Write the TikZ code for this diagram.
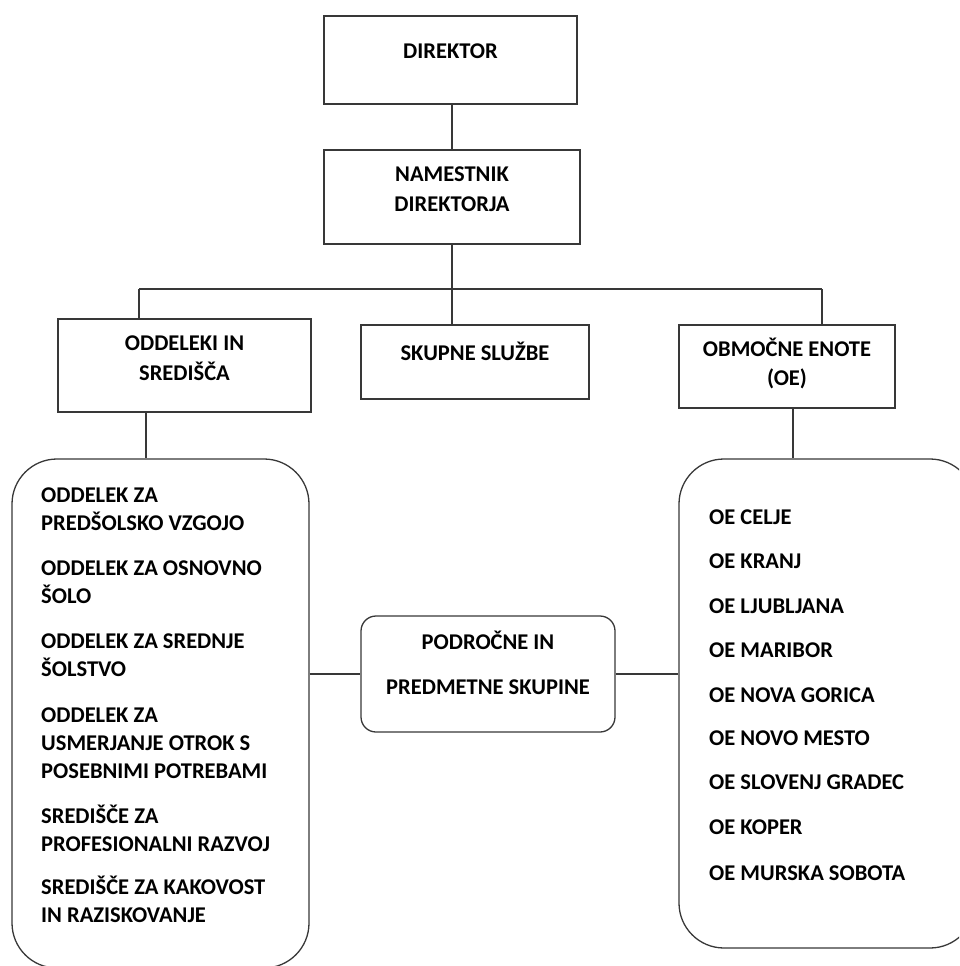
\documentclass[tikz,border=0pt]{standalone}
\usepackage{fontspec}
\setmainfont{Carlito}[BoldFont={Carlito Bold}]
\begin{document}
\begin{tikzpicture}[x=1pt,y=-1pt,
  line/.style={draw=black!78,line width=1.3pt},
  box/.style={line,rectangle,inner sep=0pt},
  rbox/.style={line,rectangle,rounded corners=45pt,inner sep=0pt},
  sbox/.style={line,rectangle,rounded corners=15pt,inner sep=0pt},
  txt/.style={font=\fontsize{22.5}{30}\selectfont\bfseries,inner sep=0pt,align=center,anchor=base},
  itm/.style={font=\fontsize{22.5}{27.7}\selectfont\bfseries,inner sep=0pt,align=left,anchor=base west}]
\useasboundingbox (0,0) rectangle (959,966);
\clip (0,0) rectangle (959,966);
% boxes
\node[box,minimum width=253pt,minimum height=88pt] (dir) at (450.5,60) {};
\node[box,minimum width=256pt,minimum height=94pt] (nam) at (452,197) {};
\node[box,minimum width=253pt,minimum height=93pt] (odd) at (184.5,365.5) {};
\node[box,minimum width=228pt,minimum height=74pt] (sku) at (475,362) {};
\node[box,minimum width=216pt,minimum height=83pt] (obm) at (787,366.5) {};
\node[rbox,minimum width=297pt,minimum height=509pt] (lbig) at (160.5,713.5) {};
\node[sbox,minimum width=254pt,minimum height=116pt] (pod) at (488,674) {};
\node[rbox,minimum width=296pt,minimum height=489pt] (rbig) at (827,703.5) {};
% texts (anchor = baseline of the last line)
\node[txt] (tdir) at (450.5,59) {DIREKTOR};
\node[txt] (tnam) at (452,211) {NAMESTNIK\\DIREKTORJA};
\node[txt] (todd) at (184.5,380) {ODDELEKI IN\\SREDIŠČA};
\node[txt] (tsku) at (475,360) {SKUPNE SLUŽBE};
\node[txt,font=\fontsize{22.5}{29}\selectfont\bfseries] (tobm) at (787,385) {OBMOČNE ENOTE\\(OE)};
\node[txt,font=\fontsize{22.5}{45}\selectfont\bfseries] (tpod) at (488,694) {PODROČNE IN\\PREDMETNE SKUPINE};
% left items
\node[itm] (l1) at (41,530) {ODDELEK ZA\\PREDŠOLSKO VZGOJO};
\node[itm] (l2) at (41,603) {ODDELEK ZA OSNOVNO\\ŠOLO};
\node[itm] (l3) at (41,676) {ODDELEK ZA SREDNJE\\ŠOLSTVO};
\node[itm] (l4) at (41,778) {ODDELEK ZA\\USMERJANJE OTROK S\\POSEBNIMI POTREBAMI};
\node[itm] (l5) at (41,851) {SREDIŠČE ZA\\PROFESIONALNI RAZVOJ};
\node[itm] (l6) at (41,922) {SREDIŠČE ZA KAKOVOST\\IN RAZISKOVANJE};
% right items
\node[itm] (r1) at (709,524) {OE CELJE};
\node[itm] (r2) at (709,568) {OE KRANJ};
\node[itm] (r3) at (709,613) {OE LJUBLJANA};
\node[itm] (r4) at (709,657) {OE MARIBOR};
\node[itm] (r5) at (709,702) {OE NOVA GORICA};
\node[itm] (r6) at (709,745) {OE NOVO MESTO};
\node[itm] (r7) at (709,789) {OE SLOVENJ GRADEC};
\node[itm] (r8) at (709,834) {OE KOPER};
\node[itm] (r9) at (709,880) {OE MURSKA SOBOTA};
% connectors
\coordinate (busL) at (139,289);
\coordinate (busM) at (452,289);
\coordinate (busR) at (822,289);
\draw[line] (dir.south -| busM) -- (nam.north -| busM);
\draw[line] (nam.south -| busM) -- (busM);
\draw[line] (busL) -- (busR);
\draw[line] (busL) -- (busL |- odd.north);
\draw[line] (busM) -- (busM |- sku.north);
\draw[line] (busR) -- (busR |- obm.north);
\coordinate (cl) at (146,0);
\coordinate (cr) at (793,0);
\draw[line] (odd.south -| cl) -- (lbig.north -| cl);
\draw[line] (obm.south -| cr) -- (rbig.north -| cr);
\draw[line] (lbig.east |- pod.west) -- (pod.west);
\draw[line] (pod.east) -- (rbig.west |- pod.east);
\end{tikzpicture}
\end{document}
